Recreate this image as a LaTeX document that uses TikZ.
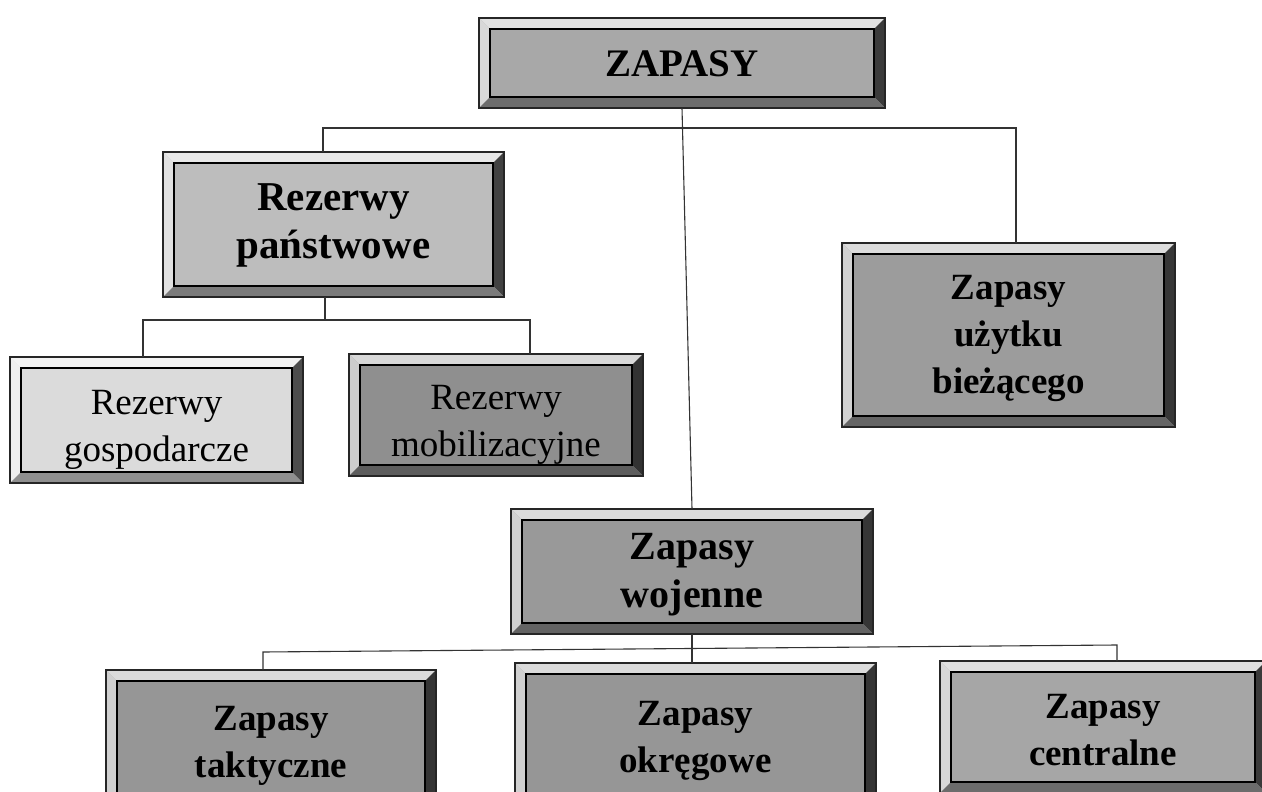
\documentclass[tikz,border=0pt]{standalone}
\usepackage{fontspec}
\setmainfont{Liberation Serif}
\usetikzlibrary{calc}

% bevel depth of the framed boxes
\def\bevw{11pt}

\tikzset{
  bevnode/.style={rectangle, inner sep=0pt, outer sep=0pt},
  boxtext/.style={inner sep=0pt, align=center, text=black},
  boldtxt/.style={font=\bfseries\fontsize{37}{47}\selectfont, yshift=-3pt},
  topbold/.style={font=\bfseries\fontsize{39}{47}\selectfont, yshift=-1pt},
  bigbold/.style={font=\bfseries\fontsize{41}{48}\selectfont, yshift=-1pt},
  widebold/.style={font=\bfseries\fontsize{40}{48}\selectfont, yshift=-3pt},
  regtxt/.style={font=\fontsize{37}{47}\selectfont, yshift=-10pt},
  link/.style={draw=black!80, line width=1.1pt},
}

% #1 name, #2 centre x, #3 centre y, #4 width, #5 height, #6 face grey (percent black),
% #7 text style, #8 text
\newcommand\bevbox[8]{%
  \colorlet{bevface}{black!#6}%
  \node[bevnode, minimum width=#4pt, minimum height=#5pt, fill=bevface] (#1) at (#2,#3) {};
  % light top and left bevels
  \fill[bevface!35!white] (#1.north west) -- (#1.north east)
    -- ([shift={(-\bevw,-\bevw)}]#1.north east) -- ([shift={(\bevw,-\bevw)}]#1.north west) -- cycle;
  \fill[bevface!45!white] (#1.north west) -- ([shift={(\bevw,-\bevw)}]#1.north west)
    -- ([shift={(\bevw,\bevw)}]#1.south west) -- (#1.south west) -- cycle;
  % dark right and bottom bevels
  \fill[bevface!35!black] (#1.north east) -- (#1.south east)
    -- ([shift={(-\bevw,\bevw)}]#1.south east) -- ([shift={(-\bevw,-\bevw)}]#1.north east) -- cycle;
  \fill[bevface!65!black] (#1.south west) -- (#1.south east)
    -- ([shift={(-\bevw,\bevw)}]#1.south east) -- ([shift={(\bevw,\bevw)}]#1.south west) -- cycle;
  % frames
  \draw[black, line width=1.4pt] ([shift={(\bevw,-\bevw)}]#1.north west) rectangle ([shift={(-\bevw,\bevw)}]#1.south east);
  \draw[black!85, line width=2pt] (#1.north west) rectangle (#1.south east);
  % caption
  \node[boxtext, #7] (#1-text) at (#1.center) {#8};
}

\begin{document}
\begin{tikzpicture}[x=1pt, y=-1pt]
  \fill[white] (0,0) rectangle (1262,792);
  \clip (0,0) rectangle (1262,792);

  \bevbox{zap}{682}{63}{406}{90}{34}{topbold}{ZAPASY}
  \bevbox{pan}{333.5}{224.5}{341}{145}{26}{bigbold}{Rezerwy\\państwowe}
  \bevbox{gos}{156.5}{420}{293}{126}{14}{regtxt}{Rezerwy\\gospodarcze}
  \bevbox{mob}{496}{415}{294}{122}{44}{regtxt}{Rezerwy\\mobilizacyjne}
  \bevbox{uzy}{1008.5}{335}{333}{184}{39}{boldtxt}{Zapasy\\użytku\\bieżącego}
  \bevbox{woj}{692}{571.5}{362}{125}{40}{widebold}{Zapasy\\wojenne}
  \bevbox{tak}{271}{742.5}{330}{145}{41}{boldtxt}{Zapasy\\taktyczne}
  \bevbox{okr}{695.5}{738}{361}{150}{41}{boldtxt}{Zapasy\\okręgowe}
  \bevbox{cen}{1103}{727}{326}{132}{35}{boldtxt}{Zapasy\\centralne}

  % junction points of the tree
  \coordinate (hL) at (323,128);
  \coordinate (hR) at (1016,128);
  \coordinate (p0) at (325,320);
  \coordinate (pL) at (143,320);
  \coordinate (pR) at (530,320);
  \coordinate (wL) at (263,652);
  \coordinate (wR) at (1117,645);

  % top level
  \draw[link] (zap.south) -- (woj.north);
  \draw[link] (pan.north -| hL) -- (hL) -- (hR) -- (uzy.north -| hR);
  % state reserves
  \draw[link] (pan.south -| p0) -- (p0);
  \draw[link] (gos.north -| pL) -- (pL) -- (pR) -- (mob.north -| pR);
  % war stocks
  \draw[link] (woj.south) -- (okr.north -| woj.south);
  \draw[link] (tak.north -| wL) -- (wL) -- (wR) -- (cen.north -| wR);
\end{tikzpicture}
\end{document}
